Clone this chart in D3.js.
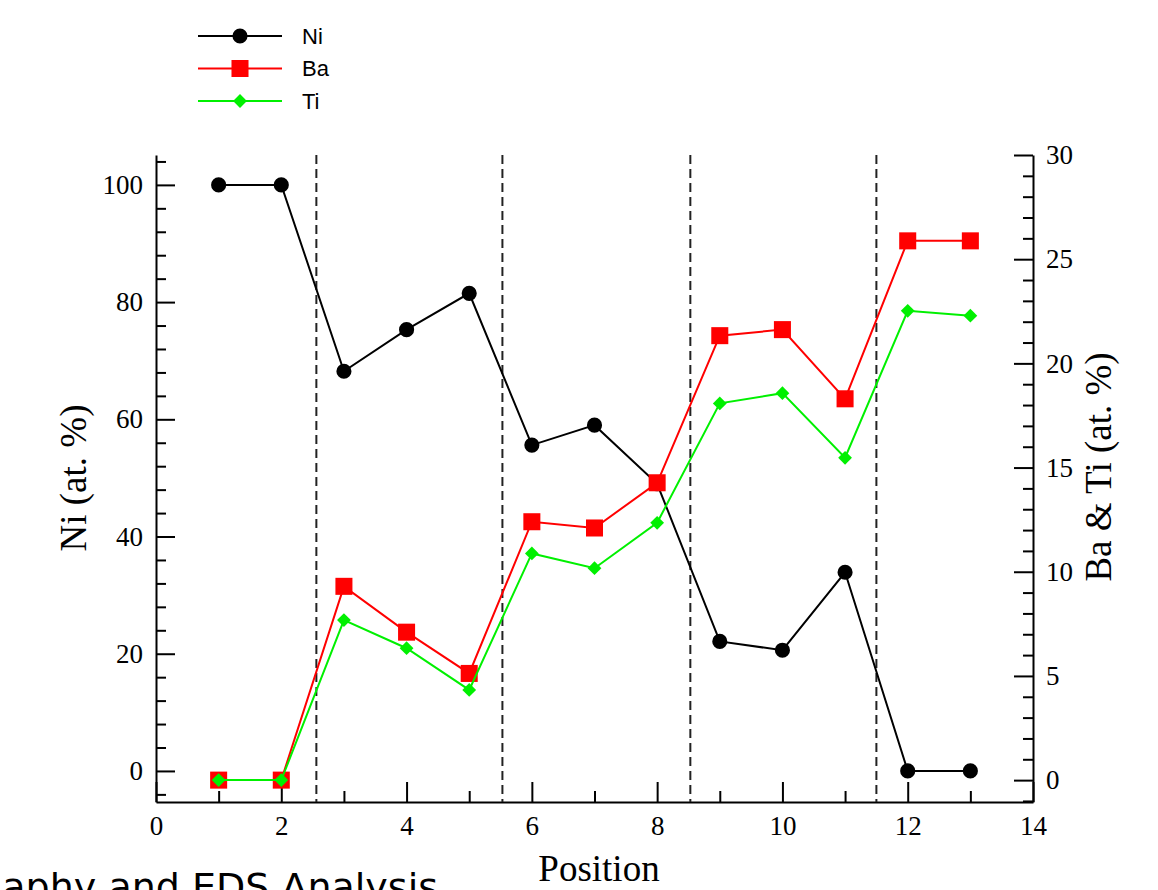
<!DOCTYPE html>
<html>
<head>
<meta charset="utf-8">
<script src="https://cdn.jsdelivr.net/npm/d3@7"></script>
<style>
  body { margin: 0; background: #fff; }
  svg { display: block; }
</style>
</head>
<body>
<div id="chart"></div>
<script>
// values
var positions = [1, 2, 3, 4, 5, 6, 7, 8, 9, 10, 11, 12, 13];
var niValues = [100, 100, 68.2, 75.3, 81.5, 55.6, 59.0, 49.0, 22.1, 20.6, 33.9, 0, 0];
var baValues = [0, 0, 9.3, 7.1, 5.12, 12.4, 12.1, 14.27, 21.33, 21.62, 18.3, 25.88, 25.88];
var tiValues = [0, 0, 7.68, 6.33, 4.33, 10.88, 10.17, 12.35, 18.08, 18.57, 15.47, 22.52, 22.29];
var boundaries = [2.56, 5.53, 8.53, 11.5];
var xTicks = [0, 2, 4, 6, 8, 10, 12, 14];
var niTicks = [0, 20, 40, 60, 80, 100];
var rightTicks = [0, 5, 10, 15, 20, 25, 30];

var width = 1158, height = 890;
var plotLeft = 156, plotRight = 1033, plotTop = 155, plotBottom = 802;

var svg = d3.select("#chart")
    .append("svg")
    .attr("width", width)
    .attr("height", height);

var x = d3.scaleLinear().domain([0, 14]).range([plotLeft, plotRight]);
var yLeft = d3.scaleLinear().domain([-5.3, 105.1]).range([plotBottom, plotTop]);
var yRight = d3.scaleLinear().domain([-1.05, 30]).range([plotBottom, plotTop]);

var serif = "'Liberation Serif', 'Times New Roman', serif";

// minor ticks first so majors sit on top
svg.append("g")
    .attr("transform", "translate(0," + plotBottom + ")")
    .call(d3.axisBottom(x).tickValues(d3.range(1, 14, 2)).tickSize(-11).tickSizeOuter(0).tickFormat(""))
    .call(function (g) { g.select(".domain").remove(); });
svg.append("g")
    .attr("transform", "translate(" + plotLeft + ",0)")
    .call(d3.axisLeft(yLeft).tickValues(d3.range(-4, 105, 4).filter(function (v) { return v % 20 !== 0; }))
        .tickSize(-10).tickSizeOuter(0).tickFormat(""))
    .call(function (g) { g.select(".domain").remove(); });
svg.append("g")
    .attr("transform", "translate(" + plotRight + ",0)")
    .call(d3.axisRight(yRight).tickValues(d3.range(-1, 30, 1).filter(function (v) { return v % 5 !== 0; }))
        .tickSize(-10).tickSizeOuter(0).tickFormat(""))
    .call(function (g) { g.select(".domain").remove(); });

// major axes
var xAxis = svg.append("g")
    .attr("transform", "translate(0," + plotBottom + ")")
    .call(d3.axisBottom(x).tickValues(xTicks).tickSize(-20).tickSizeOuter(0).tickPadding(14));
var lAxis = svg.append("g")
    .attr("transform", "translate(" + plotLeft + ",0)")
    .call(d3.axisLeft(yLeft).tickValues(niTicks).tickSize(-19).tickSizeOuter(0).tickPadding(13));
var rAxis = svg.append("g")
    .attr("transform", "translate(" + plotRight + ",0)")
    .call(d3.axisRight(yRight).tickValues(rightTicks).tickSize(-19).tickSizeOuter(0).tickPadding(13));

svg.selectAll(".tick line, .domain")
    .attr("stroke", "#000")
    .attr("stroke-width", 2);
[xAxis, lAxis, rAxis].forEach(function (a) {
    a.selectAll("text")
        .attr("fill", "#000")
        .style("font-family", serif)
        .style("font-size", "27px");
});

// dashed boundaries
svg.selectAll(".boundary")
    .data(boundaries)
    .enter().append("line")
    .attr("class", "boundary")
    .attr("x1", function (d) { return x(d); })
    .attr("x2", function (d) { return x(d); })
    .attr("y1", plotTop)
    .attr("y2", plotBottom)
    .attr("stroke", "#222")
    .attr("stroke-width", 2)
    .attr("stroke-dasharray", "9,5");

// series (Ti marker is a square turned 45 degrees)
var series = [
    { name: "Ni", values: niValues, y: yLeft, color: "#000", symbol: d3.symbolCircle, size: 180, rot: 0 },
    { name: "Ba", values: baValues, y: yRight, color: "#ff0000", symbol: d3.symbolSquare, size: 290, rot: 0 },
    { name: "Ti", values: tiValues, y: yRight, color: "#00f000", symbol: d3.symbolSquare, size: 95, rot: 45 }
];

series.forEach(function (s) {
    var line = d3.line()
        .x(function (d, i) { return x(positions[i]); })
        .y(function (d) { return s.y(d); });
    svg.append("path")
        .datum(s.values)
        .attr("d", line)
        .attr("fill", "none")
        .attr("stroke", s.color)
        .attr("stroke-width", 2);
    svg.selectAll(".pt-" + s.name)
        .data(s.values)
        .enter().append("path")
        .attr("class", "pt-" + s.name)
        .attr("transform", function (d, i) {
            return "translate(" + x(positions[i]) + "," + s.y(d) + ") rotate(" + s.rot + ")";
        })
        .attr("d", d3.symbol().type(s.symbol).size(s.size))
        .attr("fill", s.color);
});

// legend
var legend = svg.selectAll(".legend")
    .data(series)
    .enter().append("g")
    .attr("class", "legend")
    .attr("transform", function (d, i) { return "translate(0," + (36 + i * 32.5) + ")"; });
legend.append("line")
    .attr("x1", 198).attr("x2", 282)
    .attr("stroke", function (d) { return d.color; })
    .attr("stroke-width", 2);
legend.append("path")
    .attr("transform", function (d) { return "translate(240,0) rotate(" + d.rot + ")"; })
    .attr("d", function (d) { return d3.symbol().type(d.symbol).size(d.size)(); })
    .attr("fill", function (d) { return d.color; });
legend.append("text")
    .attr("x", 302)
    .attr("dy", "0.36em")
    .style("font-family", "'Liberation Sans', Arial, sans-serif")
    .style("font-size", "22px")
    .text(function (d) { return d.name; });

// axis titles
svg.append("text")
    .attr("transform", "translate(86,478) rotate(-90)")
    .attr("text-anchor", "middle")
    .style("font-family", serif)
    .style("font-size", "37px")
    .text("Ni (at. %)");
svg.append("text")
    .attr("transform", "translate(1111,467) rotate(-90)")
    .attr("text-anchor", "middle")
    .style("font-family", serif)
    .style("font-size", "37px")
    .text("Ba & Ti (at. %)");
svg.append("text")
    .attr("x", 599)
    .attr("y", 881)
    .attr("text-anchor", "middle")
    .style("font-family", serif)
    .style("font-size", "37px")
    .text("Position");

// slide caption cut off at the bottom edge
svg.append("text")
    .attr("x", 438)
    .attr("y", 900)
    .attr("text-anchor", "end")
    .style("font-family", "'DejaVu Sans', Verdana, sans-serif")
    .style("font-size", "38px")
    .text("aphy and EDS Analysis");
</script>
</body>
</html>
